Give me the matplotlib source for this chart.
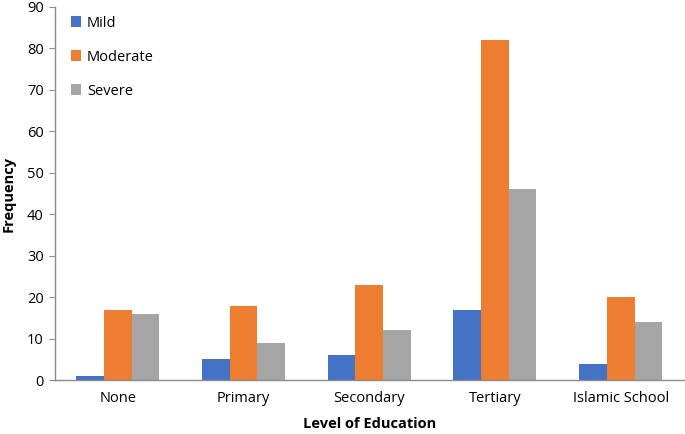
import numpy as np
import matplotlib.pyplot as plt

plt.rcParams['font.family'] = ['Open Sans', 'DejaVu Sans']

# data
categories = ['None', 'Primary', 'Secondary', 'Tertiary', 'Islamic School']
mild = [1, 5, 6, 17, 4]
moderate = [17, 18, 23, 82, 20]
severe = [16, 9, 12, 46, 14]
series_names = ['Mild', 'Moderate', 'Severe']
colors = ['#4472C4', '#ED7D31', '#A5A5A5']

fig = plt.figure(figsize=(6.85, 4.34), dpi=100)
ax = fig.add_axes([0.080, 0.124, 0.918, 0.86])

x = np.arange(len(categories))
w = 0.22
for i, (vals, name, c) in enumerate(zip([mild, moderate, severe], series_names, colors)):
    ax.bar(x + (i - 1) * w, vals, width=w, color=c, label=name)

ax.set_xlim(-0.5, len(categories) - 0.5)
ax.set_ylim(0, 90)
ax.set_yticks(range(0, 91, 10))
ax.set_xticks(x)
ax.set_xticklabels(categories)

for s in ['top', 'right']:
    ax.spines[s].set_visible(False)
for s in ['left', 'bottom']:
    ax.spines[s].set_color('#8c8c8c')
    ax.spines[s].set_linewidth(1.0)

ax.tick_params(axis='y', length=4, color='#8c8c8c', labelsize=10.5, pad=4)
ax.tick_params(axis='x', length=0, labelsize=10.5, pad=8)

ax.set_ylabel('Frequency', fontsize=10.5, fontweight='bold', labelpad=8)
ax.set_xlabel('Level of Education', fontsize=10.5, fontweight='bold', labelpad=8)

ax.legend(loc='upper left', bbox_to_anchor=(0.005, 1.012), frameon=False,
          fontsize=10.5, handlelength=0.7, handleheight=0.7,
          handletextpad=0.4, labelspacing=1.3)

fig.savefig('out.png', dpi=100)
